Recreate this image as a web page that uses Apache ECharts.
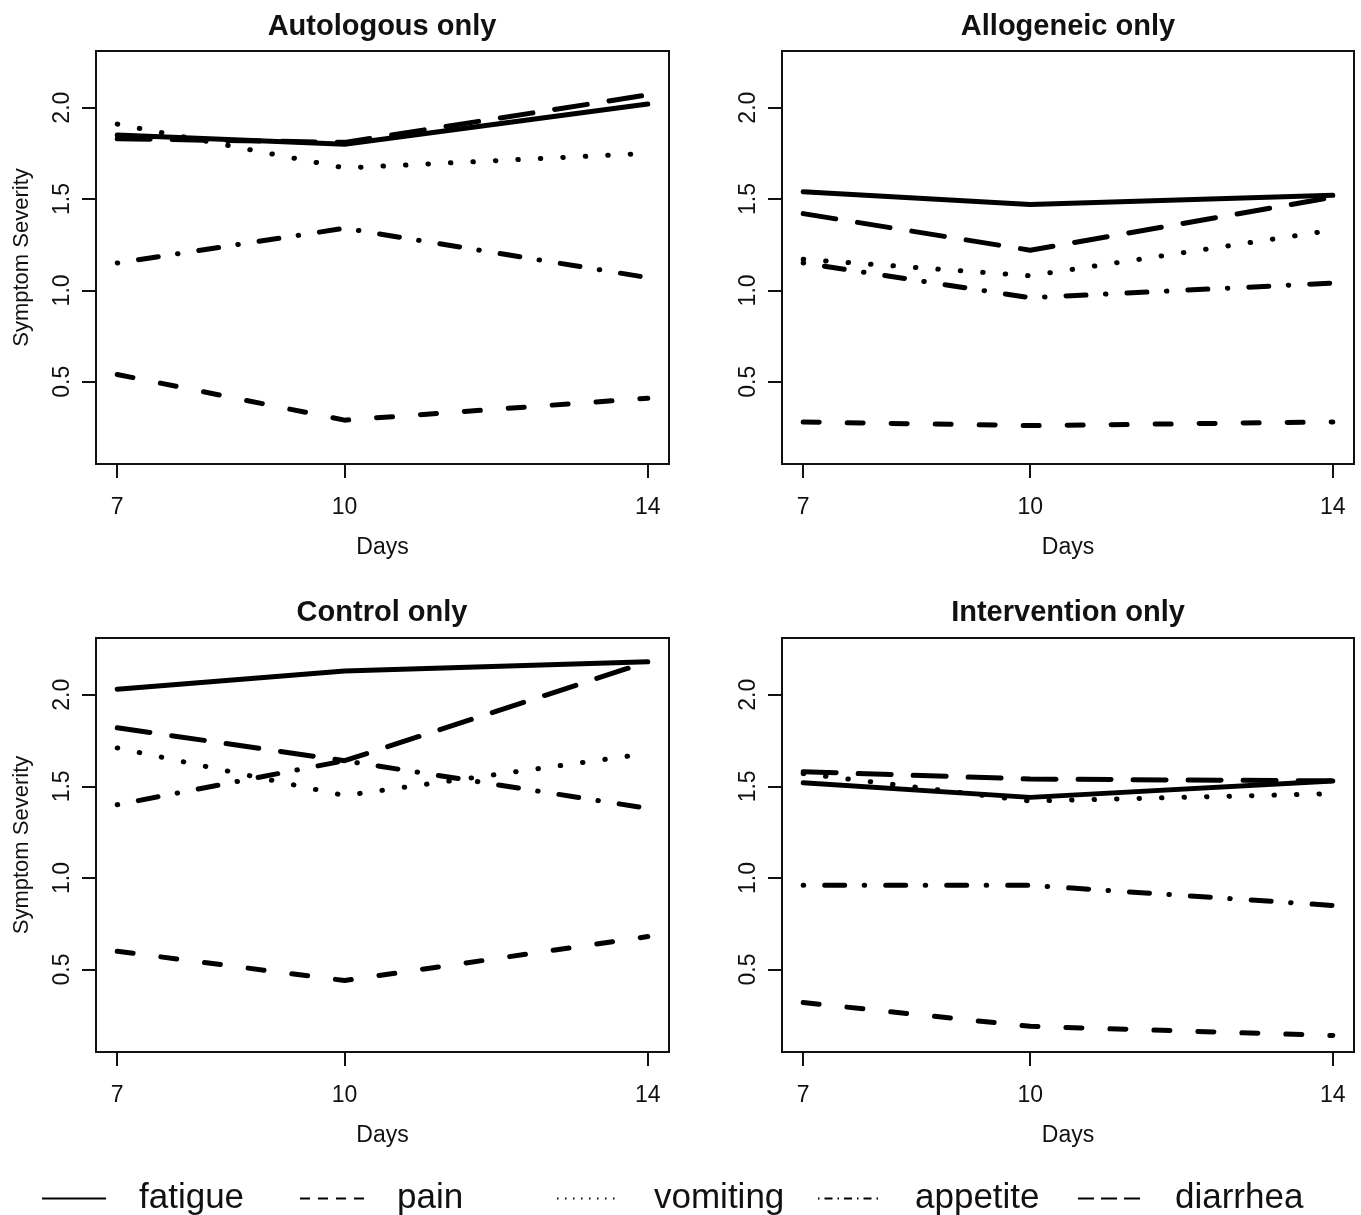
<!DOCTYPE html>
<html>
<head>
<meta charset="utf-8">
<script src="https://cdn.jsdelivr.net/npm/echarts@6/dist/echarts.min.js"></script>
<style>
html,body{margin:0;padding:0;background:#fff;}
#chart{width:1361px;height:1215px;}
</style>
</head>
<body>
<div id="chart"></div>
<script>
// ---- data ----
var days = [7, 10, 14];
var dayTicks = [7, 10, 14];
var severityTicks = [0.5, 1.0, 1.5, 2.0];
var symptoms = ['fatigue', 'pain', 'vomiting', 'appetite', 'diarrhea'];
var panelTitles = ['Autologous only', 'Allogeneic only', 'Control only', 'Intervention only'];

var autoFatigue  = [1.85, 1.80, 2.02];
var autoPain     = [0.54, 0.29, 0.41];
var autoVomiting = [1.91, 1.67, 1.75];
var autoAppetite = [1.15, 1.34, 1.07];
var autoDiarrhea = [1.83, 1.81, 2.07];

var alloFatigue  = [1.54, 1.47, 1.52];
var alloPain     = [0.28, 0.26, 0.28];
var alloVomiting = [1.17, 1.08, 1.33];
var alloAppetite = [1.15, 0.96, 1.04];
var alloDiarrhea = [1.42, 1.22, 1.51];

var ctrlFatigue  = [2.03, 2.13, 2.18];
var ctrlPain     = [0.60, 0.44, 0.68];
var ctrlVomiting = [1.71, 1.45, 1.68];
var ctrlAppetite = [1.40, 1.64, 1.38];
var ctrlDiarrhea = [1.82, 1.64, 2.18];

var intvFatigue  = [1.52, 1.44, 1.53];
var intvPain     = [0.32, 0.19, 0.14];
var intvVomiting = [1.57, 1.42, 1.46];
var intvAppetite = [0.96, 0.96, 0.85];
var intvDiarrhea = [1.58, 1.54, 1.53];

var panelData = [
  [autoFatigue, autoPain, autoVomiting, autoAppetite, autoDiarrhea],
  [alloFatigue, alloPain, alloVomiting, alloAppetite, alloDiarrhea],
  [ctrlFatigue, ctrlPain, ctrlVomiting, ctrlAppetite, ctrlDiarrhea],
  [intvFatigue, intvPain, intvVomiting, intvAppetite, intvDiarrhea]
];

// ---- styles ----
var FONT = 'Liberation Sans, Arial, Helvetica, sans-serif';
var plotDash = {
  fatigue: 'solid',
  pain: [16, 28],
  vomiting: [0.5, 22],
  appetite: [0.5, 21, 20, 19.5],
  diarrhea: [33, 22]
};
var legendDash = {
  fatigue: 'solid',
  pain: [10, 8],
  vomiting: [1.5, 6.5],
  appetite: [1.5, 5, 8, 5],
  diarrhea: [16, 7]
};
var grids = [
  {left: 96, top: 51, width: 573, height: 413},
  {left: 782, top: 51, width: 572, height: 413},
  {left: 96, top: 638, width: 573, height: 414},
  {left: 782, top: 638, width: 572, height: 414}
];
var titleCenters = [[377, 7], [1063, 7], [377, 593], [1063, 593]];

var option = {
  backgroundColor: '#fff',
  animation: false,
  title: [],
  grid: [],
  xAxis: [],
  yAxis: [],
  legend: [],
  series: []
};

grids.forEach(function (g, i) {
  option.grid.push({
    left: g.left, top: g.top, width: g.width, height: g.height,
    show: true, borderColor: '#111', borderWidth: 2, backgroundColor: 'transparent'
  });
  option.title.push({
    text: panelTitles[i], left: titleCenters[i][0], top: titleCenters[i][1], textAlign: 'center',
    textStyle: {fontFamily: FONT, fontSize: 29, fontWeight: 'bold', color: '#111'}
  });
  option.xAxis.push({
    gridIndex: i, type: 'value', min: 6.72, max: 14.28,
    axisLine: {show: false}, splitLine: {show: false},
    axisTick: {show: true, customValues: dayTicks, length: 14, lineStyle: {color: '#111', width: 2}},
    axisLabel: {customValues: dayTicks, fontSize: 23, margin: 32, color: '#111', fontFamily: FONT},
    name: 'Days', nameLocation: 'middle', nameGap: 72,
    nameTextStyle: {fontSize: 23, color: '#111', fontFamily: FONT}
  });
  option.yAxis.push({
    gridIndex: i, type: 'value', min: 0.05, max: 2.31,
    axisLine: {show: false}, splitLine: {show: false},
    axisTick: {show: true, customValues: severityTicks, length: 14, lineStyle: {color: '#111', width: 2}},
    axisLabel: {customValues: severityTicks, rotate: 90, fontSize: 23, margin: 22, color: '#111', fontFamily: FONT,
      formatter: function (v) { return v.toFixed(1); }},
    name: (i % 2 === 0) ? 'Symptom Severity' : '', nameLocation: 'middle', nameGap: 63,
    nameTextStyle: {fontSize: 22, color: '#111', fontFamily: FONT}
  });
  symptoms.forEach(function (s, k) {
    var vals = panelData[i][k];
    option.series.push({
      name: s, type: 'line', xAxisIndex: i, yAxisIndex: i,
      data: days.map(function (d, j) { return [d, vals[j]]; }),
      symbol: 'none', silent: true,
      lineStyle: {color: '#000', width: 5, type: plotDash[s], cap: 'round', join: 'round'},
      itemStyle: {color: '#000'}
    });
  });
});

var legendLeft = [36, 294, 551, 812, 1072];
symptoms.forEach(function (s, k) {
  option.legend.push({
    left: legendLeft[k], top: 1176, orient: 'horizontal',
    itemWidth: 64, itemHeight: 20, selectedMode: false,
    data: [{name: s, lineStyle: {type: legendDash[s], width: 2, color: '#000', cap: 'butt'},
            itemStyle: {opacity: 0}}],
    textStyle: {fontSize: 35, color: '#111', fontFamily: FONT, padding: [0, 0, 0, 28]}
  });
});

var chart = echarts.init(document.getElementById('chart'), null, {renderer: 'canvas'});
chart.setOption(option);
</script>
</body>
</html>
